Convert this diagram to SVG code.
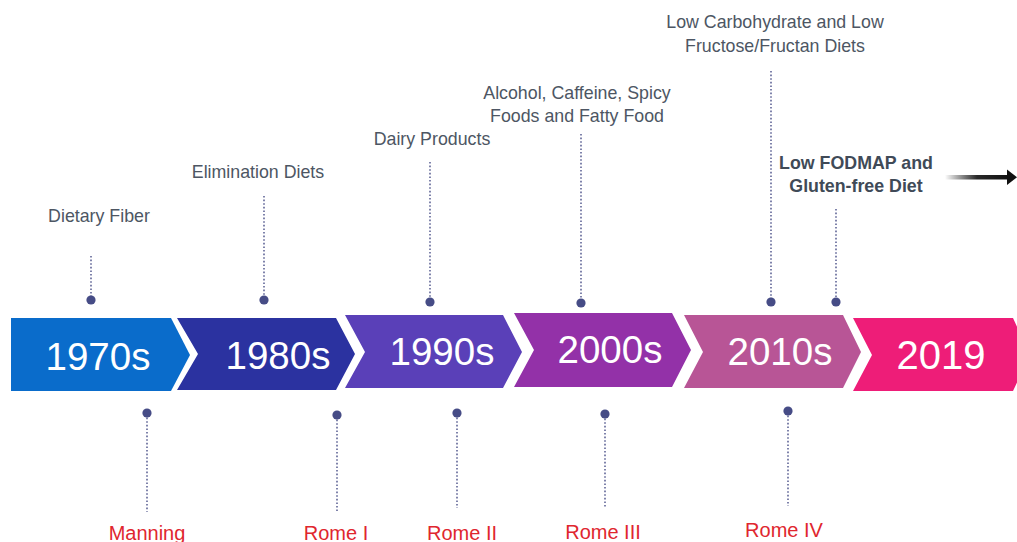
<svg xmlns="http://www.w3.org/2000/svg" width="1017" height="542" viewBox="0 0 1017 542">
<style>
.yr{font-family:"Liberation Sans",Arial,sans-serif;font-size:38.5px;fill:#ffffff;text-anchor:middle}
.top{font-family:"Liberation Sans",Arial,sans-serif;font-size:17.8px;fill:#4d5663;text-anchor:middle}
.bold{font-weight:bold;fill:#404a57}
.red{font-family:"Liberation Sans",Arial,sans-serif;font-size:20px;fill:#e0262e;text-anchor:middle}
.dot{fill:#464c86}
.dl{stroke:#5f6496;stroke-width:1.6;stroke-dasharray:1.6 2;fill:none}
</style>
<defs>
<linearGradient id="ag" x1="0" y1="0" x2="1" y2="0">
<stop offset="0" stop-color="#000" stop-opacity="0"/>
<stop offset="0.5" stop-color="#111" stop-opacity="0.9"/>
<stop offset="1" stop-color="#111"/>
</linearGradient>
</defs>
<g id="chevron-1970s">
<polygon points="11,318 171,318 190,355 171,391 11,391" fill="#0a6ccb"/>
<text class="yr" x="98" y="370">1970s</text>
</g>
<g id="chevron-1980s">
<polygon points="177,318 336,318 355,354 336,390 177,390 198,354" fill="#2b32a0"/>
<text class="yr" x="278" y="369">1980s</text>
</g>
<g id="chevron-1990s">
<polygon points="345,315 503,315 522,352 503,388 345,388 365,352" fill="#5a40b8"/>
<text class="yr" x="442" y="365">1990s</text>
</g>
<g id="chevron-2000s">
<polygon points="514,313 672,313 691,350 672,387 514,387 534,350" fill="#9331a8"/>
<text class="yr" x="610" y="363">2000s</text>
</g>
<g id="chevron-2010s">
<polygon points="684,315 843,315 861,352 843,388 684,388 703,352" fill="#b85596"/>
<text class="yr" x="780" y="365">2010s</text>
</g>
<g id="chevron-2019">
<polygon points="853,318 1013,318 1030,355 1013,391 853,391 872,355" fill="#ee1d78"/>
<text class="yr" x="941" y="369" style="font-size:40px">2019</text>
</g>
<g id="connectors">
<line class="dl" x1="91" y1="256" x2="91" y2="299"/>
<line class="dl" x1="264" y1="196" x2="264" y2="299"/>
<line class="dl" x1="430" y1="162" x2="430" y2="301"/>
<line class="dl" x1="581" y1="134" x2="581" y2="302"/>
<line class="dl" x1="771" y1="71" x2="771" y2="301"/>
<line class="dl" x1="836" y1="209" x2="836" y2="301"/>
<line class="dl" x1="147" y1="414" x2="147" y2="512"/>
<line class="dl" x1="337" y1="416" x2="337" y2="511"/>
<line class="dl" x1="457" y1="414" x2="457" y2="508"/>
<line class="dl" x1="605" y1="415" x2="605" y2="507"/>
<line class="dl" x1="788" y1="412" x2="788" y2="506"/>
<rect x="945" y="175" width="64" height="4.5" fill="url(#ag)"/>
<polygon points="1007,169.5 1017,177.2 1007,185" fill="#111"/>
</g>
<g id="dots">
<circle class="dot" cx="91" cy="300" r="4.6"/>
<circle class="dot" cx="264" cy="300" r="4.6"/>
<circle class="dot" cx="430" cy="302" r="4.6"/>
<circle class="dot" cx="581" cy="303" r="4.6"/>
<circle class="dot" cx="771" cy="302" r="4.6"/>
<circle class="dot" cx="836" cy="302" r="4.6"/>
<circle class="dot" cx="147" cy="413" r="4.6"/>
<circle class="dot" cx="337" cy="415" r="4.6"/>
<circle class="dot" cx="457" cy="413" r="4.6"/>
<circle class="dot" cx="605" cy="414" r="4.6"/>
<circle class="dot" cx="788" cy="411" r="4.6"/>
</g>
<g id="label-dietary-fiber"><text class="top" x="99" y="222">Dietary Fiber</text></g>
<g id="label-elimination"><text class="top" x="258" y="178">Elimination Diets</text></g>
<g id="label-dairy"><text class="top" x="432" y="145">Dairy Products</text></g>
<g id="label-alcohol"><text class="top" x="577" y="99">Alcohol, Caffeine, Spicy</text><text class="top" x="577" y="122">Foods and Fatty Food</text></g>
<g id="label-lowcarb"><text class="top" x="775" y="28">Low Carbohydrate and Low</text><text class="top" x="775" y="52">Fructose/Fructan Diets</text></g>
<g id="label-fodmap"><text class="top bold" x="856" y="169">Low FODMAP and</text><text class="top bold" x="856" y="192">Gluten-free Diet</text></g>
<g id="label-manning"><text class="red" x="147" y="540">Manning</text></g>
<g id="label-rome1"><text class="red" x="336" y="540">Rome I</text></g>
<g id="label-rome2"><text class="red" x="462" y="540">Rome II</text></g>
<g id="label-rome3"><text class="red" x="603" y="539">Rome III</text></g>
<g id="label-rome4"><text class="red" x="784" y="537">Rome IV</text></g>
</svg>
